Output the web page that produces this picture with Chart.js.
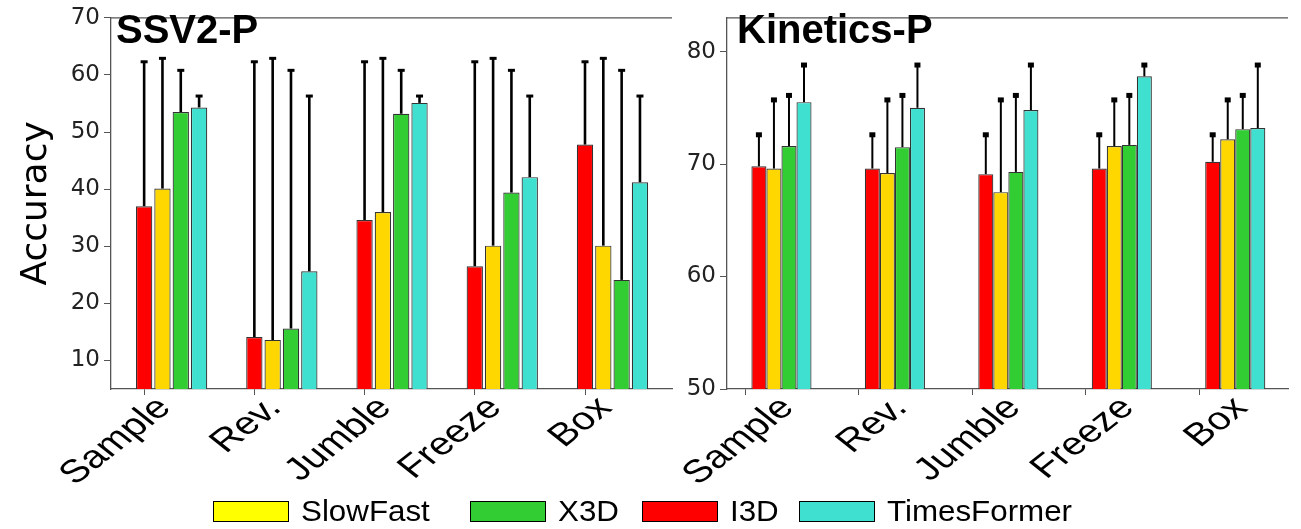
<!DOCTYPE html>
<html>
<head>
<meta charset="utf-8">
<title>SSV2-P / Kinetics-P</title>
<script src="https://cdn.jsdelivr.net/npm/chart.js"></script>
<style>
  body { margin: 0; background: #fff; width: 1301px; height: 529px; position: relative; overflow: hidden; }
  #left { position: absolute; left: 0; top: 0; }
  #right { position: absolute; left: 660px; top: 0; }
  .leg { position: absolute; top: 498px; height: 26px; display: flex; align-items: center;
         font-family: "Liberation Sans", Arial, sans-serif; font-size: 29px; color: #000; white-space: nowrap; }
  .leg .box { width: 76px; height: 21px; border: 1px solid #000; box-sizing: border-box; }
  .leg .txt { display: inline-block; transform: scaleX(1.08); transform-origin: left center; }
</style>
</head>
<body>
<canvas id="left" width="690" height="500"></canvas>
<canvas id="right" width="641" height="500"></canvas>
<div id="legend"></div>

<script>
// categories and series
const categories = ["Sample", "Rev.", "Jumble", "Freeze", "Box"];
const models = ["I3D", "SlowFast", "X3D", "TimesFormer"];
const colors = ["#FF0000", "#FFD700", "#32CD32", "#40E0D0"];

// SSV2-P accuracy (bar heights) and upper end of error bars
const ssvI3D = [37.0, 14.1, 34.6, 26.5, 47.8];
const ssvSlowFast = [40.1, 13.6, 36.0, 30.1, 30.1];
const ssvX3D = [53.5, 15.6, 53.2, 39.4, 24.1];
const ssvTimesFormer = [54.3, 25.6, 55.1, 42.1, 41.2];
const ssvI3DUp = [62.3, 62.3, 62.3, 62.3, 62.3];
const ssvSlowFastUp = [62.9, 62.9, 62.9, 62.9, 62.9];
const ssvX3DUp = [60.8, 60.8, 60.8, 60.8, 60.8];
const ssvTimesFormerUp = [56.3, 56.3, 56.3, 56.3, 56.3];
const ssvTicks = [10, 20, 30, 40, 50, 60, 70];

// Kinetics-P
const kinI3D = [69.8, 69.6, 69.1, 69.6, 70.2];
const kinSlowFast = [69.6, 69.2, 67.5, 71.6, 72.2];
const kinX3D = [71.6, 71.5, 69.3, 71.7, 73.1];
const kinTimesFormer = [75.5, 75.0, 74.8, 77.8, 73.2];
const kinI3DUp = [72.6, 72.6, 72.6, 72.6, 72.6];
const kinSlowFastUp = [75.7, 75.7, 75.7, 75.7, 75.7];
const kinX3DUp = [76.1, 76.1, 76.1, 76.1, 76.1];
const kinTimesFormerUp = [78.8, 78.8, 78.8, 78.8, 78.8];
const kinTicks = [50, 60, 70, 80];

// legend order as in the figure
const legendOrder = ["SlowFast", "X3D", "I3D", "TimesFormer"];
const legendColors = ["#FFFF00", "#32CD32", "#FF0000", "#40E0D0"];

// error bars: line from bar top to upper value, with a cap
const errorBars = {
  id: "errorBars",
  afterDatasetsDraw(chart, args, opts) {
    const ctx = chart.ctx;
    const y = chart.scales.y;
    ctx.save();
    ctx.beginPath();
    ctx.rect(chart.chartArea.left, 0, chart.chartArea.width, chart.chartArea.bottom);
    ctx.clip();
    chart.data.datasets.forEach((ds, di) => {
      chart.getDatasetMeta(di).data.forEach((bar, i) => {
        const top = y.getPixelForValue(ds.upper[i]);
        ctx.strokeStyle = "#000";
        ctx.lineWidth = opts.lineWidth;
        ctx.beginPath();
        ctx.moveTo(bar.x, bar.y);
        ctx.lineTo(bar.x, top);
        ctx.stroke();
        ctx.lineWidth = opts.capThick;
        ctx.beginPath();
        ctx.moveTo(bar.x - opts.capWidth / 2, top);
        ctx.lineTo(bar.x + opts.capWidth / 2, top);
        ctx.stroke();
      });
    });
    ctx.restore();
  }
};

// top spine, panel title and the (horizontally stretched) category labels
const frame = {
  id: "frame",
  afterDraw(chart, args, opts) {
    const ctx = chart.ctx;
    const a = chart.chartArea;
    const x = chart.scales.x;
    ctx.save();
    ctx.strokeStyle = "#555";
    ctx.lineWidth = 1.3;
    ctx.beginPath();
    ctx.moveTo(a.left, a.top);
    ctx.lineTo(a.right, a.top);
    ctx.stroke();
    ctx.fillStyle = "#000";
    ctx.font = "bold 40px 'Liberation Sans', Arial, sans-serif";
    ctx.textBaseline = "alphabetic";
    ctx.fillText(opts.text, a.left + opts.dx, 43);

    ctx.font = "32px 'Liberation Sans', Arial, sans-serif";
    ctx.textAlign = "right";
    ctx.textBaseline = "middle";
    categories.forEach((c, i) => {
      ctx.save();
      ctx.translate(x.getPixelForValue(i) + opts.labelDx, a.bottom + 14);
      ctx.scale(1.27, 1);
      ctx.rotate(-Math.PI / 4);
      ctx.fillText(c, 0, 0);
      ctx.restore();
    });
    ctx.restore();
  }
};

function makeDatasets(series, uppers) {
  return series.map((vals, k) => ({
    label: models[k],
    data: vals.map((v, i) => ({ x: i, y: v })),
    upper: uppers[k],
    backgroundColor: colors[k],
    borderColor: "#333",
    borderWidth: 1.2
  }));
}

function makeChart(id, cfg) {
  return new Chart(document.getElementById(id), {
    type: "bar",
    data: { datasets: makeDatasets(cfg.series, cfg.uppers) },
    options: {
      responsive: false,
      animation: false,
      layout: { padding: { top: 13, right: cfg.padRight, left: 0, bottom: 0 } },
      datasets: { bar: { categoryPercentage: cfg.catPct, barPercentage: cfg.barPct } },
      plugins: {
        legend: { display: false },
        tooltip: { enabled: false },
        errorBars: cfg.err,
        frame: { text: cfg.title, dx: cfg.titleDx, labelDx: cfg.labelDx }
      },
      scales: {
        x: {
          type: "linear",
          offset: false,
          min: cfg.xMin,
          max: cfg.xMax,
          // tick marks sit left of each group, as in the original figure
          afterBuildTicks: (s) => { s.ticks = categories.map((c, i) => ({ value: i + cfg.tickShift })); },
          afterFit: (s) => { s.height = 111; },
          ticks: { display: false },
          grid: { drawOnChartArea: false, offset: false, tickLength: 6, color: "#555" },
          border: { color: "#555", width: 1.3 }
        },
        y: {
          min: cfg.yMin,
          max: cfg.yMax,
          afterBuildTicks: (s) => { s.ticks = cfg.ticks.map((v) => ({ value: v })); },
          afterFit: (s) => { s.width = cfg.yWidth; },
          ticks: {
            padding: 4,
            color: "#222",
            font: { family: "'DejaVu Sans', sans-serif", size: 23 }
          },
          grid: { drawOnChartArea: false, tickLength: 7, color: "#555" },
          border: { color: "#555", width: 1.3 },
          title: {
            display: cfg.yTitle !== "",
            text: cfg.yTitle,
            color: "#000",
            font: { family: "'DejaVu Sans', sans-serif", size: 36 },
            padding: { top: 15, bottom: 0 }
          }
        }
      }
    },
    plugins: [errorBars, frame]
  });
}

makeChart("left", {
  series: [ssvI3D, ssvSlowFast, ssvX3D, ssvTimesFormer],
  uppers: [ssvI3DUp, ssvSlowFastUp, ssvX3DUp, ssvTimesFormerUp],
  ticks: ssvTicks, yMin: 5, yMax: 70,
  xMin: -0.55, xMax: 4.54, tickShift: -0.248,
  catPct: 0.665, barPct: 0.89,
  padRight: 18, yWidth: 111, yTitle: "Accuracy",
  title: "SSV2-P", titleDx: 5, labelDx: -7,
  err: { lineWidth: 2.6, capWidth: 7, capThick: 3 }
});

makeChart("right", {
  series: [kinI3D, kinSlowFast, kinX3D, kinTimesFormer],
  uppers: [kinI3DUp, kinSlowFastUp, kinX3DUp, kinTimesFormerUp],
  ticks: kinTicks, yMin: 50, yMax: 83,
  xMin: -0.48, xMax: 4.465, tickShift: -0.317,
  catPct: 0.53, barPct: 1.0,
  padRight: 13, yWidth: 67, yTitle: "",
  title: "Kinetics-P", titleDx: 10, labelDx: 6,
  err: { lineWidth: 2, capWidth: 6, capThick: 5 }
});

// legend (HTML, spanning both panels)
const legendX = [213, 470, 642, 799];
const legend = document.getElementById("legend");
legendOrder.forEach((name, k) => {
  const item = document.createElement("div");
  item.className = "leg";
  item.style.left = legendX[k] + "px";
  item.innerHTML = '<span class="box" style="background:' + legendColors[k] + '"></span>' +
    '<span class="txt" style="margin-left:12px">' + name + '</span>';
  legend.appendChild(item);
});
</script>
</body>
</html>
